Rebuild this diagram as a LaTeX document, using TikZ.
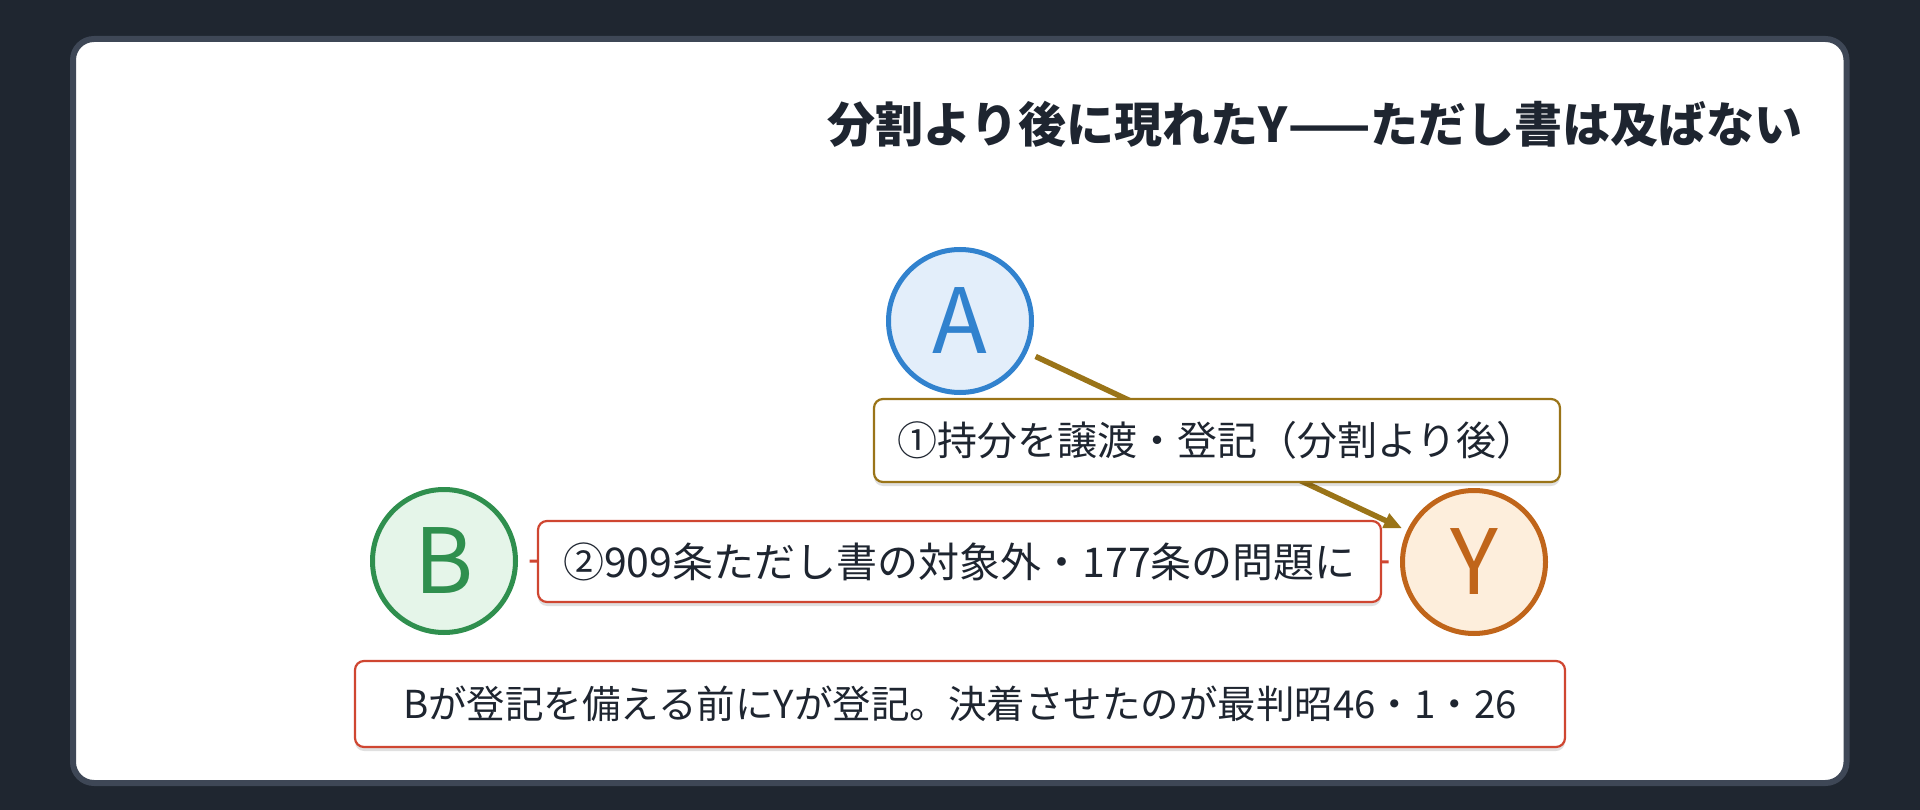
\documentclass[tikz,border=0pt]{standalone}
\usepackage{fontspec}
\setmainfont{Noto Sans CJK JP}
\usetikzlibrary{arrows.meta,shadows}
\definecolor{bgdark}{HTML}{1F2630}
\definecolor{panelborder}{HTML}{3E4756}
\definecolor{ink}{HTML}{1E2530}
\definecolor{blueline}{HTML}{3182CE}
\definecolor{bluefill}{HTML}{E3EEFA}
\definecolor{greenline}{HTML}{2F8F4E}
\definecolor{greenfill}{HTML}{E5F5E9}
\definecolor{orangeline}{HTML}{C0651A}
\definecolor{orangefill}{HTML}{FDEEDC}
\definecolor{goldline}{HTML}{9A7418}
\definecolor{redline}{HTML}{CF4631}
\tikzset{
  party/.style={circle, line width=5pt, minimum size=143pt, inner sep=0pt, outer sep=10pt, font=\fontsize{90}{90}\selectfont},
  labelbox/.style={rounded corners=9pt, fill=white, line width=2.2pt, text=ink, font=\fontsize{40}{40}\selectfont, inner sep=0pt,
     drop shadow={shadow xshift=0pt, shadow yshift=-4pt, opacity=0.12, fill=black}},
}
\begin{document}
\begin{tikzpicture}[x=1pt,y=-1pt]
\fill[bgdark] (0,0) rectangle (1920,810);
\useasboundingbox (0,0) rectangle (1920,810);
\draw[panelborder, line width=6pt, fill=white, rounded corners=21pt] (73,39) rectangle (1846.5,783);
\node[anchor=east, text=ink, font=\fontsize{48}{48}\selectfont\bfseries] (title) at (1806,124) {分割より後に現れたY——ただし書は及ばない};
\node[party, draw=blueline, fill=bluefill, text=blueline] (A) at (960,321) {A};
\node[party, draw=greenline, fill=greenfill, text=greenline] (B) at (444,561) {B};
\node[party, draw=orangeline, fill=orangefill, text=orangeline] (Y) at (1474,562) {Y};
\draw[redline, line width=3pt, shorten <=4pt, shorten >=4pt] (B) -- (Y);
\draw[goldline, line width=5.5pt, -{Triangle[length=18pt,width=15pt]}, shorten <=2pt, shorten >=-2pt] (A) -- (Y);
\node[labelbox, draw=goldline, minimum width=686pt, minimum height=83pt] (l1) at (1217,440.5) {①持分を譲渡・登記（分割より後）};
\node[labelbox, draw=redline, minimum width=843pt, minimum height=81pt, font=\fontsize{41}{41}\selectfont] (l2) at (959.5,561.5) {②909条ただし書の対象外・177条の問題に};
\node[labelbox, draw=redline, minimum width=1210pt, minimum height=86pt, font=\fontsize{38.5}{38.5}\selectfont] (l3) at (960,704) {Bが登記を備える前にYが登記。決着させたのが最判昭46・1・26};
\end{tikzpicture}
\end{document}
